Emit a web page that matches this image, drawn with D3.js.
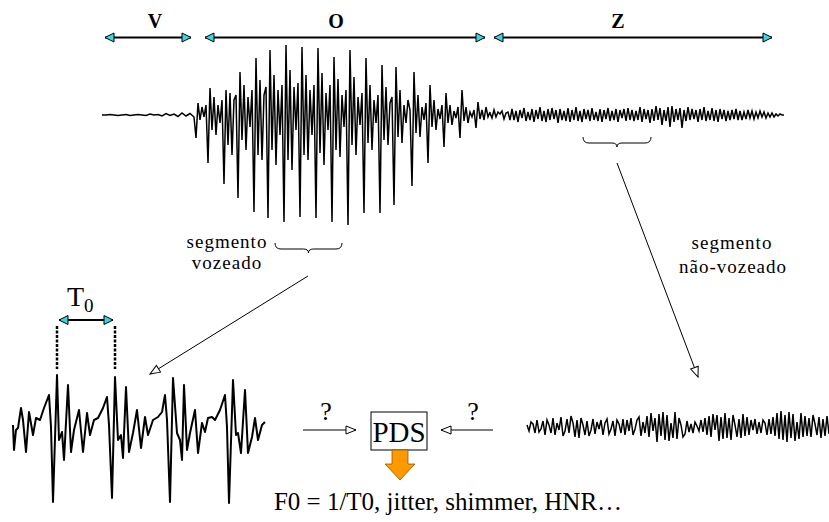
<!DOCTYPE html>
<html><head><meta charset="utf-8">
<script src="https://cdn.jsdelivr.net/npm/d3@7"></script>
<style>body{margin:0;background:#fff}svg{display:block}text{font-family:"Liberation Serif","DejaVu Serif",serif}</style>
</head><body>
<script>
// ---- DATA ----
const phonemes = ["V", "O", "Z"];
// phoneme spans in signal time units (0..682)
const phonemeStart = [1, 101, 390];
const phonemeEnd = [91, 385, 672];

// top signal, silence/onset part (step 4)
const onsetSignal = [0,0,0.5,0,-0.5,0,0.5,-0.5,0,0.5,0,-0.5,1,0,0.5,-1,1.5,-0.5,1,-1.5,2,-1,1.5,-2];
// top signal, vowel part (step 2)
const voicedSignal = [
 -23,12,-5,8,-2,10,
 -48,27,-15,18,-20,10,-8,15,
 -69,25,-30,22,-40,15,20,
 -83,43,-25,30,-35,18,-12,25,
 -97,57,-40,35,-45,20,28,
 -103,65,-35,40,-50,25,-20,30,
 -107,70,-45,45,-55,28,-15,32,
 -102,68,-40,40,-45,25,-20,30,
 -103,67,-38,42,-50,22,-15,30,
 -107,58,-35,36,-42,20,-12,25,
 -110,65,-30,38,-40,18,-10,22,
 -98,57,-28,30,-35,15,-8,20,
 -98,50,-25,28,-30,12,18,
 -90,48,-22,25,-28,10,-8,15,5,
 -71,43,-18,20,-22,8,-5,12,
 -48,30,-12,15,-15,6,-4,10,
 -32,22,-8,10,-10,4,-3,8,
 -23,25,-6,8,-8,3,-2,5,
 -13,13,-4,5,-5,8,-2,3];
// top signal, fricative part (step 2)
const unvoicedSignal = [
 2,-3,5,-2,3,1,4,-4,2,3,-5,
 6,-5,4,-7,5,-3,7,-6,3,-5,
 6,-7,5,-4,8,-6,4,-7,6,-5,
 7,-4,5,-8,6,-5,4,-6,7,-7,
 5,-5,8,-6,4,-7,6,-4,5,-6,
 7,-5,3,-6,6,-7,5,-4,7,-6,
 4,-5,6,-7,5,-3,6,-6,7,-5,
 5,-6,4,-5,8,-7,6,-4,5,-8,
 6,-6,9,-5,7,-10,5,-6,8,-12,
 9,-7,6,-5,7,-13,5,-6,8,-5,
 6,-4,5,-7,6,-5,8,-6,4,-5,
 7,-6,5,-7,6,-4,5,-6,4,-5,
 5,-4,6,-5,4,-5,3,-4,5,-3,
 4,-4,3,-3,4,-2,3,-3,2,-2,
 2,-2,1,-1,1,0,0];

// zoomed voiced segment: time (x0.1 ms) and amplitude
const segTime = [0,1,3,5,8,10,13,16,20,23,27,31,36,38,40,44,46,49,51,55,58,61,66,70,74,77,81,85,90,94,96,99,102,105,108,110,113,116,120,124,128,132,135,140,145,149,152,154,157,160,164,167,169,171,174,177,182,185,189,192,195,199,202,207,212,214,216,220,223,225,228,232,235,239,242,245,249,252];
const segAmp = [13,-12,8,10,30,18,-14,26,3,20,18,30,43,11,-64,63,-2,6,-22,53,-14,8,28,-14,25,3,18,20,30,41,13,-60,61,-2,3,-20,51,-14,5,28,-10,21,3,18,21,26,43,18,-64,60,5,-2,-22,53,-12,5,28,-15,15,6,20,21,18,28,43,11,-65,58,3,5,-15,48,-15,1,20,-2,13,16];

// zoomed unvoiced segment (step 2)
const noiseSeg = [
 2,-4,5,3,-6,7,-5,-2,6,-8,
 7,2,-6,9,-8,4,-3,10,-9,-4,
 8,-6,11,4,-10,7,-11,9,2,-8,
 6,-9,-3,8,-7,5,-2,7,-8,4,
 8,-7,-2,6,-9,7,3,-6,8,-8,
 7,-4,9,-8,-2,7,10,-9,5,-6,
 11,-10,14,-4,9,-15,13,-9,15,-13,
 12,-14,4,-11,15,-12,9,2,-10,-7,
 6,-5,3,-6,5,1,-4,7,-5,9,
 -8,11,-10,13,-3,12,-14,10,-12,14,
 -11,9,-13,12,2,-10,8,-11,13,-9,
 10,-8,7,-3,8,-7,5,-6,7,4,
 -8,8,-7,10,-9,14,-12,16,-13,12,
 -15,15,-11,13,-14,5,-12,14,-10,11,
 -9,9,-10,12,3,-8,10,-11,8,-9,
 11,-7];

const labels = {
  segV: ["segmento", "vozeado"],
  segU: ["segmento", "não-vozeado"],
  pds: "PDS",
  q: "?",
  result: "F0 = 1/T0, jitter, shimmer, HNR…"
};

// ---- DRAW ----
const W = 829, H = 522;
const svg = d3.select("body").append("svg").attr("width", W).attr("height", H);

const defs = svg.append("defs");
defs.append("marker").attr("id", "cy").attr("viewBox", "0 0 11 11")
  .attr("refX", 10).attr("refY", 5.5).attr("markerWidth", 11).attr("markerHeight", 11)
  .attr("markerUnits", "userSpaceOnUse").attr("orient", "auto-start-reverse")
  .append("path").attr("d", "M1,1 L10,5.5 L1,10 Z")
  .attr("fill", "#3cd3e3").attr("stroke", "#000").attr("stroke-width", 1);
defs.append("marker").attr("id", "open").attr("viewBox", "0 0 12 10")
  .attr("refX", 11).attr("refY", 5).attr("markerWidth", 12).attr("markerHeight", 10)
  .attr("markerUnits", "userSpaceOnUse").attr("orient", "auto")
  .append("path").attr("d", "M1,1 L11,5 L1,9 Z")
  .attr("fill", "#fff").attr("stroke", "#000").attr("stroke-width", 1);

// top signal scales
const xTop = d3.scaleLinear().domain([0, 682]).range([102, 784]);
const yTop = d3.scaleLinear().domain([-110, 110]).range([225, 5]);
const topPts = [];
onsetSignal.forEach((v, i) => topPts.push([i * 4, v]));
voicedSignal.forEach((v, i) => topPts.push([94 + i * 2, v]));
unvoicedSignal.forEach((v, i) => topPts.push([388 + i * 2, v]));
svg.append("path").datum(topPts)
  .attr("d", d3.line().x(d => xTop(d[0])).y(d => yTop(d[1])))
  .attr("fill", "none").attr("stroke", "#000").attr("stroke-width", 1.5)
  .attr("stroke-linejoin", "miter");

// phoneme arrows
const labelShift = [7, -9, -15];
phonemes.forEach((p, i) => {
  const x1 = xTop(phonemeStart[i]), x2 = xTop(phonemeEnd[i]);
  svg.append("line").attr("x1", x1 + 2).attr("x2", x2 - 2).attr("y1", 37.5).attr("y2", 37.5)
    .attr("stroke", "#000").attr("stroke-width", 2)
    .attr("marker-start", "url(#cy)").attr("marker-end", "url(#cy)");
  svg.append("text").attr("x", (x1 + x2) / 2 + labelShift[i]).attr("y", 28)
    .attr("text-anchor", "middle").attr("font-size", 20).attr("font-weight", "bold")
    .text(p);
});

// braces
function brace(x1, x2, y, d) {
  const m = (x1 + x2) / 2;
  return `M${x1},${y} Q${x1},${y + d} ${x1 + 6},${y + d} L${m - 5},${y + d} Q${m},${y + d} ${m},${y + d + 4}` +
         ` Q${m},${y + d} ${m + 5},${y + d} L${x2 - 6},${y + d} Q${x2},${y + d} ${x2},${y}`;
}
svg.append("path").attr("d", brace(583, 651, 137, 6)).attr("fill", "none").attr("stroke", "#000").attr("stroke-width", 1);
svg.append("path").attr("d", brace(275, 342, 243, 6)).attr("fill", "none").attr("stroke", "#000").attr("stroke-width", 1);

// segment labels (one text per line)
function label(txt, x, y) {
  svg.append("text").attr("x", x).attr("y", y).attr("text-anchor", "middle")
    .attr("font-size", 19).attr("letter-spacing", 1).text(txt);
}
label(labels.segV[0], 227, 248);
label(labels.segV[1], 227, 269);
label(labels.segU[0], 732, 249);
label(labels.segU[1], 733, 273);

// pointer arrows
svg.append("line").attr("x1", 308).attr("y1", 276).attr("x2", 150).attr("y2", 374)
  .attr("stroke", "#000").attr("stroke-width", 1).attr("marker-end", "url(#open)");
svg.append("line").attr("x1", 617).attr("y1", 163).attr("x2", 698).attr("y2", 377)
  .attr("stroke", "#000").attr("stroke-width", 1).attr("marker-end", "url(#open)");

// zoomed voiced segment
const xSeg = d3.scaleLinear().domain([0, 252]).range([13, 265]);
const ySeg = d3.scaleLinear().domain([-65, 65]).range([503, 373]);
svg.append("path").datum(segTime.map((t, i) => [t, segAmp[i]]))
  .attr("d", d3.line().x(d => xSeg(d[0])).y(d => ySeg(d[1])))
  .attr("fill", "none").attr("stroke", "#000").attr("stroke-width", 2).attr("stroke-linejoin", "round");

// T0 period marker
const p1 = xSeg(segTime[15]), p2 = xSeg(segTime[32]);
svg.append("line").attr("x1", p1 + 2).attr("x2", p2 - 2).attr("y1", 320).attr("y2", 320)
  .attr("stroke", "#000").attr("stroke-width", 2)
  .attr("marker-start", "url(#cy)").attr("marker-end", "url(#cy)");
[p1, p2].forEach(x => svg.append("line").attr("x1", x).attr("x2", x).attr("y1", 326).attr("y2", 369)
  .attr("stroke", "#000").attr("stroke-width", 2.5).attr("stroke-dasharray", "3,1.5"));
const t0 = svg.append("text").attr("x", 67).attr("y", 306).attr("font-size", 28);
t0.append("tspan").text("T");
t0.append("tspan").attr("font-size", 19).attr("dy", 6).text("0");

// zoomed unvoiced segment
const xNoise = d3.scaleLinear().domain([0, noiseSeg.length - 1]).range([527, 829]);
const yNoise = d3.scaleLinear().domain([-20, 20]).range([447, 407]);
svg.append("path").datum(noiseSeg)
  .attr("d", d3.line().x((d, i) => xNoise(i)).y(d => yNoise(d)))
  .attr("fill", "none").attr("stroke", "#000").attr("stroke-width", 1.5);

// PDS box
svg.append("rect").attr("x", 371).attr("y", 412).attr("width", 56).attr("height", 38)
  .attr("fill", "#fff").attr("stroke", "#000").attr("stroke-width", 1);
svg.append("text").attr("x", 399).attr("y", 442).attr("text-anchor", "middle")
  .attr("font-size", 29).text(labels.pds);
// question arrows
svg.append("line").attr("x1", 303).attr("y1", 430).attr("x2", 356).attr("y2", 430)
  .attr("stroke", "#000").attr("stroke-width", 1).attr("marker-end", "url(#open)");
svg.append("line").attr("x1", 493).attr("y1", 430).attr("x2", 441).attr("y2", 430)
  .attr("stroke", "#000").attr("stroke-width", 1).attr("marker-end", "url(#open)");
svg.append("text").attr("x", 326).attr("y", 420).attr("text-anchor", "middle").attr("font-size", 26).text(labels.q);
svg.append("text").attr("x", 473).attr("y", 420).attr("text-anchor", "middle").attr("font-size", 26).text(labels.q);
// orange arrow
svg.append("path").attr("d", "M392,450 L408,450 L408,464 L415,464 L400,480 L385,464 L392,464 Z")
  .attr("fill", "#ff9900").attr("stroke", "#8a5a00").attr("stroke-width", 0.8);
// result text
svg.append("text").attr("x", 448).attr("y", 510).attr("text-anchor", "middle")
  .attr("font-size", 25).text(labels.result);
</script>
</body></html>
